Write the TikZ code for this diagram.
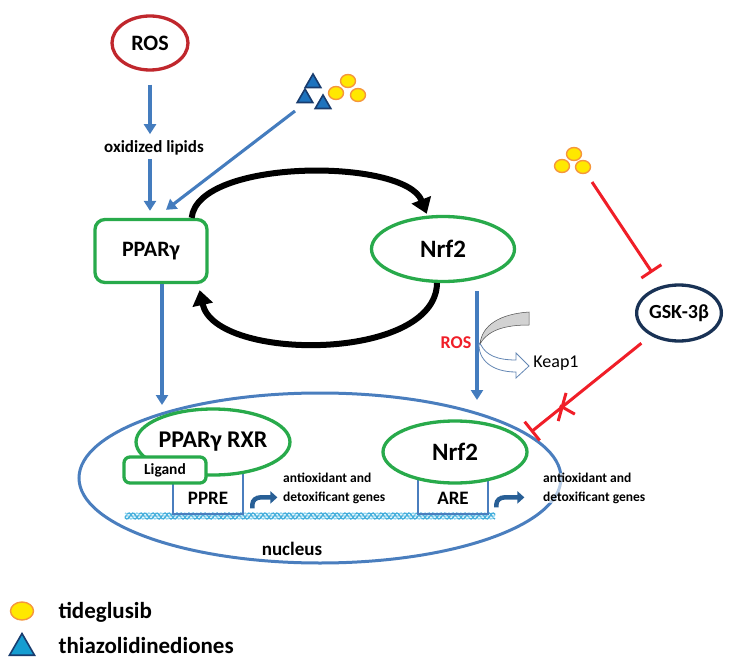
\documentclass[tikz,border=0pt]{standalone}
\usepackage{fontspec}
\setmainfont{Carlito}
\usetikzlibrary{arrows.meta}
\usetikzlibrary{shapes}

\definecolor{rosred}{RGB}{192,39,45}
\definecolor{pgreen}{RGB}{40,170,75}
\definecolor{arrblue}{RGB}{68,124,190}
\definecolor{nucblue}{RGB}{74,126,190}
\definecolor{geneblue}{RGB}{40,95,150}
\definecolor{gsknavy}{RGB}{25,50,85}
\definecolor{inhred}{RGB}{240,30,40}
\definecolor{dnaA}{RGB}{70,175,220}
\definecolor{dnaB}{RGB}{150,215,240}
\definecolor{tdgfill}{RGB}{255,232,0}
\definecolor{tdgdraw}{RGB}{245,150,60}
\definecolor{tzdfill}{RGB}{30,115,190}
\definecolor{tzddraw}{RGB}{25,60,110}
\definecolor{keapline}{RGB}{100,135,180}

\tikzset{
  txt/.style={font=\bfseries\fontsize{#1}{#1}\selectfont},
  txt/.default=17,
  rtxt/.style={font=\fontsize{#1}{#1}\selectfont},
  bluarrow/.style={draw=arrblue, line width=3.1pt, -{Triangle[length=10pt,width=12pt]}},
  cyc/.style={draw=black, line width=6pt, -{Triangle[length=15pt,width=20pt]}},
  inhib/.style={draw=inhred, line width=3pt, -{Bar[width=24pt]}},
  greenbox/.style={draw=pgreen, line width=3.3pt, fill=white, inner sep=0pt},
  geneb/.style={draw=geneblue, line width=4.5pt, -{Triangle[length=7pt,width=12pt]}},
  genetxt/.style={font=\bfseries\fontsize{13.5}{19}\selectfont, align=left, inner sep=0pt},
  tdg/.style={ellipse, draw=tdgdraw, fill=tdgfill, line width=1.4pt, inner sep=0pt,
    minimum width=15pt, minimum height=13pt},
  tzd/.style={regular polygon, regular polygon sides=3, draw=tzddraw, fill=tzdfill,
    line width=1.6pt, inner sep=0pt, minimum size=18pt},
}

\begin{document}
\begin{tikzpicture}[x=1pt,y=-1pt]
\useasboundingbox (0,0) rectangle (734,666);

% nucleus and DNA
\node[ellipse, draw=nucblue, line width=3pt, minimum width=482pt, minimum height=170pt] (nuc) at (320,478) {};
\node[txt=19] (nuctxt) at (292,549) {nucleus};
\foreach \ph/\col in {0/dnaA,120/dnaB,240/dnaA}
{
\draw[\col, line width=1.4pt] plot[domain=125:495, samples=250, smooth] (\x, {516+3*sin(30*\x+\ph)});
}

% response elements
\node[draw=nucblue, line width=2.8pt, minimum width=70pt, minimum height=52pt, inner sep=0pt] (pprebox) at (208,488) {};
\node[draw=nucblue, line width=2.8pt, minimum width=70pt, minimum height=42pt, inner sep=0pt] (arebox) at (453,493) {};
\node[txt=19] (ppre) at (208,498) {PPRE};
\node[txt=19] (are) at (453,498) {ARE};

% complexes in the nucleus
\node[greenbox, ellipse, minimum width=142pt, minimum height=66pt, txt=24] (pxr) at (213,442) {PPARγ RXR};
\node[greenbox, rounded corners=6pt, minimum width=82pt, minimum height=26pt, txt=15.5] (lig) at (165,470) {Ligand};
\node[greenbox, ellipse, minimum width=144pt, minimum height=62pt, txt=25] (nrfn) at (455,452) {Nrf2};

% target genes
\draw[geneb] ([xshift=8pt,yshift=7pt]pprebox.south east) -- ++(0,-4) to[out=90,in=180] ++(8,-7) -- ++(17,0);
\draw[geneb] ([xshift=7pt,yshift=8pt]arebox.south east) -- ++(0,-3) to[out=90,in=180] ++(8,-7) -- ++(20,0);
\node[genetxt, anchor=west] (gene1) at (283,488) {antioxidant and\\detoxificant genes};
\node[genetxt, anchor=west, fill=white, fill opacity=0.6, text opacity=1] (gene2) at (543,488) {antioxidant and\\detoxificant genes};

% cytoplasm
\node[draw=rosred, line width=3.3pt, ellipse, minimum width=76pt, minimum height=54pt, inner sep=0pt, txt=22] (ros) at (150,43) {ROS};
\node[txt=17] (oxl) at (154,148) {oxidized lipids};
\node[greenbox, rounded corners=10pt, minimum width=112pt, minimum height=63pt, txt=22] (ppar) at (151,251) {PPARγ};
\node[greenbox, ellipse, minimum width=143pt, minimum height=65pt, txt=25] (nrf) at (443,249) {Nrf2};

\draw[bluarrow, shorten <=13pt, shorten >=3pt] (ros.south) -- (ros.south |- oxl.north);
\draw[bluarrow, shorten >=7pt] (ros.south |- oxl.south) -- (ros.south |- ppar.north);

% thiazolidinediones + tideglusib
\foreach \p [count=\i] in {(313,83),(305,98),(323,104)}
\node[tzd] (tz\i) at \p {};
\foreach \p [count=\i] in {(348,81),(336,93),(358,95)}
\node[tdg] (td\i) at \p {};
\coordinate (tzout) at (295,111);
\draw[bluarrow] (tzout) -- ([xshift=15pt,yshift=8pt]ppar.north);

% PPARg <-> Nrf2 loop
\draw[cyc, shorten >=2pt] ([xshift=-17pt]ppar.north east) .. controls (198,158) and (405,158) .. (nrf.115);
\draw[cyc] (nrf.260) .. controls (436,362) and (215,362) .. ([xshift=-9pt,yshift=-6pt]ppar.south east);

% into the nucleus
\coordinate (pparnuc) at (162,405);
\coordinate (nrfnuc) at (477,400);
\draw[bluarrow] ([xshift=11pt]ppar.south) -- (pparnuc);
\draw[bluarrow] ([xshift=34pt,yshift=-8pt]nrf.south) -- (nrfnuc);

% Keap1 release
\node[txt=18, text=inhred] (rosk) at (456,343) {ROS};
\node[rtxt=18] (keap) at (556,363) {Keap1};
\draw[gray!60!black, line width=0.5pt, fill=gray!35] (480,344) .. controls (482,325) and (500,314) .. (529,312)
  -- (529,325) .. controls (505,325) and (488,330) .. (480,344) -- cycle;
\draw[keapline, line width=0.8pt, fill=white] (479,343) .. controls (478,360) and (492,372) .. (516,372)
  -- (516,378) -- (529,366) -- (516,353) -- (516,360) .. controls (497,360) and (486,355) .. (481,345) -- cycle;

% GSK-3b branch
\node[draw=gsknavy, line width=3.3pt, ellipse, minimum width=84pt, minimum height=56pt, inner sep=0pt, txt=20] (gsk) at (679,313) {GSK-3β};
\foreach \p [count=\i] in {(574,154),(562,166),(583,167)}
\node[tdg] (tg\i) at \p {};
\coordinate (tgout) at (592,182);
\coordinate (gskend) at (531,432);
\draw[inhib, shorten >=16pt] (tgout) -- (gsk);
\draw[inhib, shorten <=12pt] (gsk) -- (gskend)
  node[pos=0.74, cross out, draw=inhred, line width=3pt, minimum width=15pt, minimum height=20pt, inner sep=0pt, rotate=22.5] (blk) {};

% legend
\node[tdg, minimum width=23pt, minimum height=18pt] (legtd) at (22,611) {};
\node[txt=23, anchor=west] (legtdtxt) at (55,612) {tideglusib};
\node[tzd, fill=tzdfill!70!cyan, minimum size=29pt] (legtz) at (22,648) {};
\node[txt=23, anchor=west] (legtztxt) at (55,646) {thiazolidinediones};

\end{tikzpicture}
\end{document}
